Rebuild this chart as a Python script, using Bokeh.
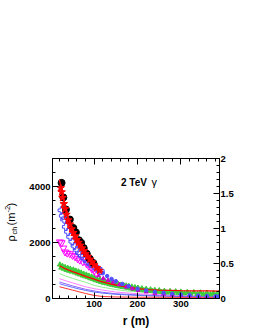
import math
from bokeh.plotting import figure
from bokeh.layouts import row
from bokeh.models import Range1d, LinearAxis, SingleIntervalTicker, PrintfTickFormatter, Label
from bokeh.embed import file_html
from bokeh.resources import INLINE

# ---------------- data ----------------
r_black = [25, 29, 35, 44, 52, 58, 65, 70, 76, 83, 90, 98]
v_black = [4130, 3610, 3180, 2820, 2520, 2360, 2080, 1990, 1800, 1600, 1420, 1270]

r_star = [23, 25, 27, 30, 33, 36, 40, 44, 48, 52, 56, 60, 64, 68, 72, 76, 80, 85, 90, 95, 100, 106, 112]
v_star = [3950, 3800, 3600, 3380, 3200, 3000, 2800, 2650, 2480, 2350, 2230, 2100, 2000, 1900, 1800,
          1700, 1600, 1500, 1400, 1300, 1200, 1100, 1000]

r_fit_hi = [20, 25, 30, 40, 50, 60, 70, 80, 90, 100, 110, 120]
v_fit_hi = [4250, 3850, 3500, 2900, 2450, 2120, 1850, 1600, 1400, 1230, 1080, 950]

r_blue = [25, 28, 31, 35, 40, 45, 50, 55, 60, 66, 72, 78, 85, 92, 100, 108, 115]
v_blue = [3150, 2950, 2820, 2560, 2380, 2200, 2030, 1880, 1740, 1620, 1520, 1420, 1320, 1230, 1150, 1060, 980]

r_blue_tail = [120, 130, 140, 150, 165, 180, 200, 220, 240, 260, 280, 300, 320, 340, 360, 380, 388]
v_blue_tail = [900, 800, 700, 620, 520, 440, 350, 290, 240, 200, 170, 140, 120, 100, 90, 80, 75]

r_mag = [21, 25, 29, 33, 38, 44, 50, 56, 62, 67, 74, 82, 88, 94, 100, 105]
v_mag = [2020, 1990, 1800, 1660, 1620, 1600, 1540, 1490, 1420, 1370, 1310, 1250, 1150, 1070, 980, 900]

r_mag_tail = [110, 121, 132, 144, 158, 174, 188, 201, 220, 240, 260, 280, 300, 320, 340, 360, 380, 388]
v_mag_tail = [820, 714, 650, 590, 500, 414, 350, 296, 240, 190, 160, 130, 110, 95, 80, 70, 60, 55]

r_green_a = [21, 27, 33, 39, 45, 52, 58, 64, 70, 76, 82, 88, 94, 100, 106, 113, 119, 125, 131, 138,
             144, 150, 156, 162, 168, 174, 180, 187, 194, 201, 210, 220, 230, 240, 250, 262, 275, 288,
             300, 315, 330, 345, 360, 375, 388]
v_green_a = [1210, 1160, 1120, 1090, 1060, 1030, 990, 960, 920, 880, 850, 810, 780, 740, 700, 680, 640,
             620, 590, 570, 560, 530, 510, 490, 470, 460, 440, 420, 400, 380, 360, 340, 320, 300, 290,
             270, 260, 250, 240, 230, 220, 210, 200, 195, 190]
r_green_b = [24, 30, 36, 42, 48, 55, 61, 67, 73, 79, 85, 91, 97, 103, 110, 116, 122, 128, 135, 141,
             147, 153, 159, 165, 171, 177, 184, 191, 198, 205, 215, 225, 235, 245, 256, 268, 281, 294,
             308, 322, 338, 352, 368, 382]
v_green_b = [1100, 1060, 1020, 990, 960, 930, 890, 860, 820, 790, 760, 720, 690, 650, 620, 590, 560,
             540, 510, 490, 470, 450, 430, 410, 400, 380, 360, 340, 330, 310, 290, 270, 260, 240, 230,
             210, 200, 190, 180, 170, 160, 150, 145, 140]

r_fit_lo = [20, 30, 40, 52, 65, 82, 100, 113, 130, 144, 160, 174, 190, 201, 225, 250, 275, 300, 330, 360, 388]
v_fit_lo = [1170, 1090, 1020, 950, 880, 780, 690, 620, 550, 500, 450, 420, 380, 350, 320, 300, 290, 280, 275, 270, 265]

r_thin = [20, 35, 50, 65, 80, 100, 120, 150, 175, 200, 250, 300, 350, 388]
v_thin_green = [890, 800, 720, 650, 580, 470, 400, 320, 270, 240, 200, 190, 180, 175]
v_thin_mag = [710, 630, 560, 490, 420, 350, 300, 230, 200, 170, 140, 120, 105, 100]
v_thin_purple = [590, 520, 450, 390, 330, 270, 220, 170, 150, 130, 100, 80, 70, 60]
v_thin_blue = [530, 460, 400, 340, 290, 230, 190, 150, 130, 110, 85, 70, 60, 50]
v_thin_red = [420, 360, 300, 240, 180, 110, 70, 55, 50, 45, 45, 40, 40, 40]

x_ticks_major = 100
y_ticks_major = 2000
y2_ticks_major = 0.5

# ---------------- layout ----------------
LW = 22            # width of the strip that carries the y-axis title
W, H = 225, 330    # main figure
FR_L, FR_R, FR_T, FR_B = 52, 219, 158, 298   # frame edges in picture px
X0, X1 = 4, 389
Y0, Y1 = 0, 5000

def dx(px):
    return X0 + (px - FR_L) * (X1 - X0) / (FR_R - FR_L)

def dy(py):
    return Y0 + (FR_B - py) * (Y1 - Y0) / (FR_B - FR_T)

p = figure(width=W, height=H, x_range=Range1d(X0, X1), y_range=Range1d(Y0, Y1),
           output_backend="svg", toolbar_location=None,
           min_border_left=FR_L - LW, min_border_right=LW + W - FR_R,
           min_border_top=FR_T, min_border_bottom=H - FR_B)
p.xgrid.visible = False
p.ygrid.visible = False
p.outline_line_color = "black"
p.background_fill_color = "white"
p.border_fill_color = "white"
p.extra_y_ranges = {"right": Range1d(0, 2)}

FONT = "Liberation Sans"

def style_axis(ax, labels=True):
    ax.axis_line_color = "black"
    ax.major_tick_line_color = "black"
    ax.minor_tick_line_color = "black"
    ax.major_tick_in = 6
    ax.major_tick_out = 0
    ax.minor_tick_in = 3
    ax.minor_tick_out = 0
    ax.major_label_text_font = FONT
    ax.major_label_text_font_style = "bold"
    ax.major_label_text_font_size = "9.5px"
    ax.major_label_text_color = "black"
    ax.major_label_standoff = 2
    if not labels:
        ax.major_label_text_font_size = "0px"
        ax.major_label_text_alpha = 0

xa = p.xaxis[0]
xa.ticker = SingleIntervalTicker(interval=x_ticks_major, num_minor_ticks=5)
style_axis(xa)
xa.axis_label = "r (m)"
xa.axis_label_text_font = FONT
xa.axis_label_text_font_style = "bold"
xa.axis_label_text_font_size = "12px"
xa.axis_label_text_color = "black"
xa.axis_label_standoff = 4

ya = p.yaxis[0]
ya.ticker = SingleIntervalTicker(interval=y_ticks_major, num_minor_ticks=4)
style_axis(ya)

top = LinearAxis(ticker=SingleIntervalTicker(interval=x_ticks_major, num_minor_ticks=5))
style_axis(top, labels=False)
p.add_layout(top, "above")

right = LinearAxis(y_range_name="right",
                   ticker=SingleIntervalTicker(interval=y2_ticks_major, num_minor_ticks=5),
                   formatter=PrintfTickFormatter(format="%g"))
style_axis(right)
right.major_label_standoff = 1
p.add_layout(right, "right")

# ---------------- curves ----------------
p.line(r_thin, v_thin_green, line_color="#90ee90", line_width=1)
p.line(r_thin, v_thin_mag, line_color="#ff80ff", line_width=1)
p.line(r_thin, v_thin_purple, line_color="#9060ff", line_width=1)
p.line(r_thin, v_thin_blue, line_color="#6070ff", line_width=1)
p.line(r_thin, v_thin_red, line_color="#ff3030", line_width=1)

p.scatter(r_green_a, v_green_a, marker="triangle", size=5, fill_color="#3ccc3c", line_color="#3ccc3c")
p.scatter(r_green_b, v_green_b, marker="triangle", size=5, fill_color="#3ccc3c", line_color="#3ccc3c")
p.line(r_fit_lo, v_fit_lo, line_color="#ff0000", line_width=1.3)

p.scatter(r_mag_tail, v_mag_tail, marker="triangle", size=4, fill_color="#cc00cc", line_color="#cc00cc")
p.scatter(r_blue_tail, v_blue_tail, marker="circle", size=3.5, fill_color="#5050ff", line_color="#5050ff")

p.scatter(r_mag, v_mag, marker="inverted_triangle", size=7, fill_color=None, line_color="#ff00ff", line_width=1)
p.scatter(r_blue, v_blue, marker="plus", size=7, fill_color=None, line_color="#4a4aff", line_width=1)
p.scatter(r_black, v_black, marker="circle", size=7, fill_color="black", line_color="black")
p.scatter(r_star, v_star, marker="star", size=8, fill_color="#ff0000", line_color="#ff0000")
p.line(r_fit_hi, v_fit_hi, line_color="#ff0000", line_width=1.3)

# ---------------- texts ----------------
def lab(fig, text, x, y, size, bold=False, align="left", baseline="middle", angle=0.0):
    l = Label(x=x, y=y, text=text, text_font=FONT,
              text_font_size=f"{size}px", text_font_style="bold" if bold else "normal",
              text_align=align, text_baseline=baseline, angle=angle, text_color="black")
    fig.add_layout(l)

lab(p, "2 TeV", dx(120.5), dy(182), 10, bold=True)
lab(p, "γ", dx(151), dy(181.5), 11)

# strip for the y-axis title; the row aligns its frame with the main frame
# (158..298 in picture px), so its y range is picture px counted from the bottom
q = figure(width=LW, height=H, x_range=Range1d(0, LW), y_range=Range1d(H - FR_B, H - FR_T),
           output_backend="svg", toolbar_location=None, x_axis_type=None, y_axis_type=None,
           min_border=0, min_border_left=0, min_border_right=0, min_border_top=0, min_border_bottom=0)
q.outline_line_color = None
q.xgrid.visible = False
q.ygrid.visible = False
q.background_fill_color = "white"
q.border_fill_color = "white"

A = math.pi / 2
lab(q, "ρ", 10, H - 241, 11, angle=A)
lab(q, "ch", 13.5, H - 234, 7.5, angle=A)
lab(q, "(m", 10, H - 225, 11, angle=A)
lab(q, "-2", 6.5, H - 212, 7.5, angle=A)
lab(q, ")", 10, H - 206, 11, angle=A)

layout = row(q, p)
open("out.html", "w").write(file_html(layout, INLINE))
